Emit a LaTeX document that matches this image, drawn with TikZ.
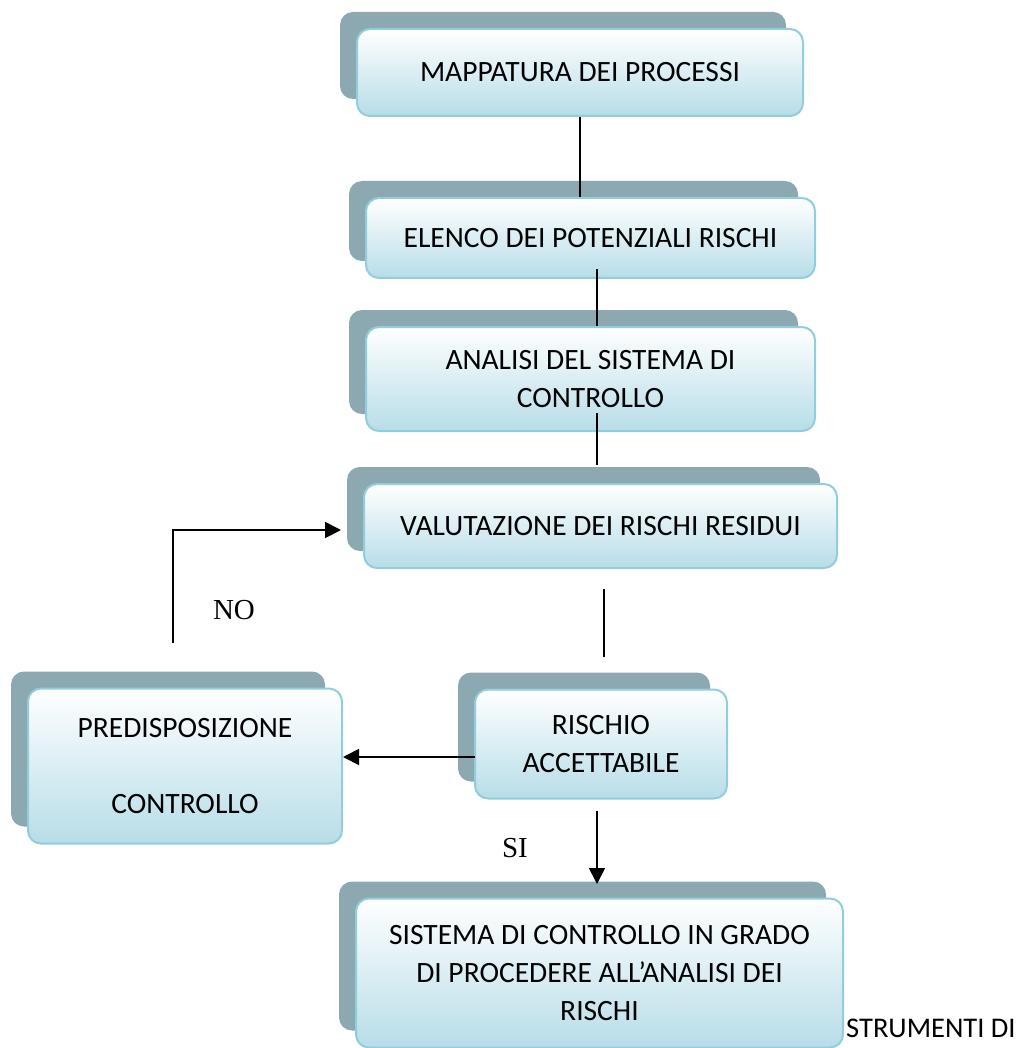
\documentclass[tikz,border=0pt]{standalone}
\usepackage{fontspec}
\setmainfont{Carlito}
\newfontfamily\labelfont{Liberation Serif}
\usepackage{tikz}
\usetikzlibrary{positioning}
\usetikzlibrary{arrows.meta}
\usetikzlibrary{shadows}
\definecolor{backgrey}{HTML}{8CA8B0}
\definecolor{edgeblue}{HTML}{92CDDC}
\definecolor{lightblue}{HTML}{B7DDE8}
\tikzset {
  % rounded step box with the dark block behind it
  stepbox/.style = {draw=edgeblue, line width=2pt, rounded corners=13pt,
    top color=white, bottom color=lightblue, inner sep=0pt, align=center,
    font=\fontsize{29.5}{38}\selectfont,
    general shadow={fill=backgrey, shadow xshift=-17pt, shadow yshift=17pt}},
  % plain connectors and arrows
  link/.style = {line width=1.8pt},
  arrow/.style = {link, -{Triangle[length=16pt, width=16pt]}},
  answer/.style = {font=\labelfont\fontsize{29}{34}\selectfont},
}

\begin{document}
\begin{tikzpicture}[x=1pt, y=-1pt]
        \useasboundingbox (0,0) rectangle (1021,1048);

        \node[stepbox, minimum width=446pt, minimum height=87pt] (mappa) at (580,72.5) {MAPPATURA DEI PROCESSI};
        \node[stepbox, minimum width=449pt, minimum height=80pt] (elenco) at (590.5,238) {ELENCO DEI POTENZIALI RISCHI};
        \node[stepbox, minimum width=449pt, minimum height=104pt] (analisi) at (590.5,379) {ANALISI DEL SISTEMA DI\\CONTROLLO};
        \node[stepbox, minimum width=473pt, minimum height=84pt] (valuta) at (600.5,526) {VALUTAZIONE DEI RISCHI RESIDUI};
        \node[stepbox, minimum width=314pt, minimum height=155pt] (predisp) at (185,766) {PREDISPOSIZIONE\\[38pt]CONTROLLO};
        \node[stepbox, minimum width=252pt, minimum height=109pt] (rischio) at (601,744) {RISCHIO\\ACCETTABILE};
        \node[stepbox, minimum width=487pt, minimum height=149pt] (sistema) at (599.5,973) {SISTEMA DI CONTROLLO IN GRADO\\DI PROCEDERE ALL’ANALISI DEI\\RISCHI};

        \node[anchor=base west, inner sep=0pt, font=\fontsize{28.5}{34}\selectfont] (strum) at (846,1037) {STRUMENTI DI};
        \node[answer] (no) at (234,610) {NO};
        \node[answer] (si) at (515,848) {SI};

        \coordinate (e1) at (597,269);
        \coordinate (a1) at (597,413);
        \coordinate (a2) at (597,465);
        \coordinate (v1) at (604,589);
        \coordinate (v2) at (604,657);
        \coordinate (r1) at (475,757);
        \coordinate (n0) at (173,643);
        \coordinate (n1) at (341,530);
        \coordinate (s0) at (597,811);
        \coordinate (s1) at (597,884);

        \draw [link] (mappa.south) -- (mappa.south |- elenco.north);
        \draw [link] (e1) -- (e1 |- analisi.north);
        \draw [link] (a1) -- (a2);
        \draw [link] (v1) -- (v2);

        \draw [arrow] (r1) -- (r1 -| predisp.east);
        \draw [arrow] (n0) |- (n1);
        \draw [arrow] (s0) -- (s1);
      \end{tikzpicture}
\end{document}
